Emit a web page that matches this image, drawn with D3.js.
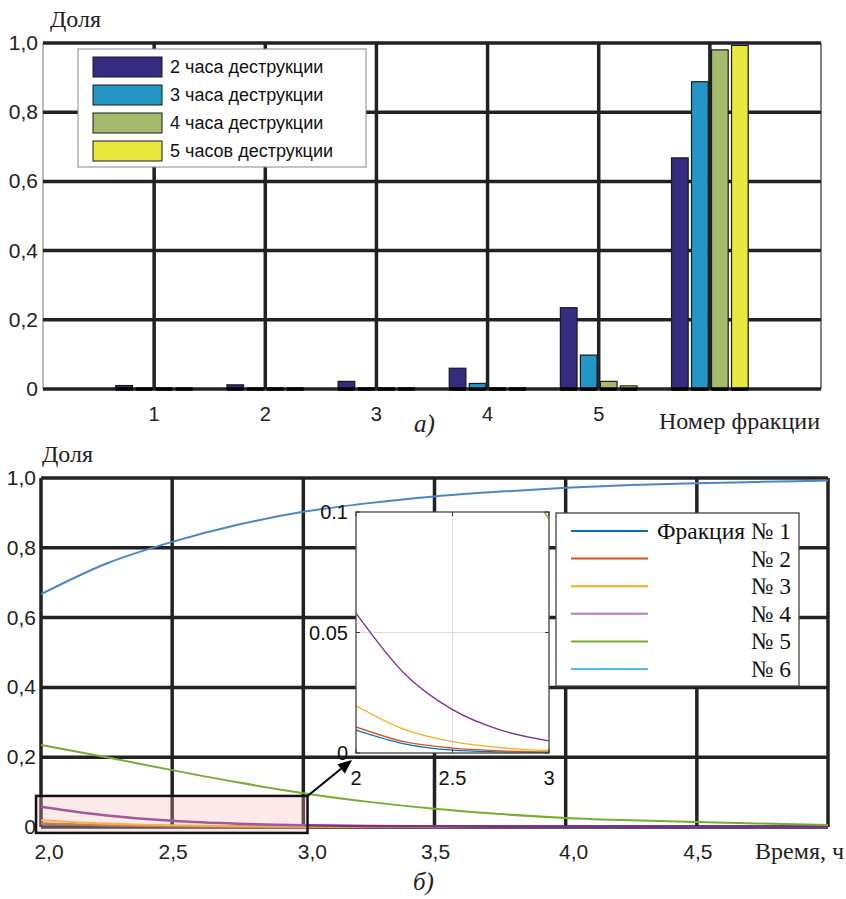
<!DOCTYPE html>
<html><head><meta charset="utf-8">
<script src="https://cdn.jsdelivr.net/npm/d3@7"></script>
<style>body{margin:0;background:#fff}svg{display:block}</style>
</head><body>
<svg id="c" width="846" height="899"></svg>
<script>
// ---------- data: top chart ----------
const fractions = [1, 2, 3, 4, 5, 6];
const fractionTickLabels = ["1", "2", "3", "4", "5"];
const seriesNames = ["2 часа деструкции", "3 часа деструкции", "4 часа деструкции", "5 часов деструкции"];
const share2h = [0.010, 0.012, 0.022, 0.060, 0.235, 0.668];
const share3h = [0.001, 0.001, 0.001, 0.016, 0.098, 0.888];
const share4h = [0.000, 0.000, 0.000, 0.000, 0.022, 0.980];
const share5h = [0.000, 0.000, 0.000, 0.000, 0.009, 0.993];
const barColors = ["#352c80", "#2496c5", "#a5bb6b", "#e9e83e"];
const yTickValues = [0, 0.2, 0.4, 0.6, 0.8, 1.0];
const yTickLabels = ["0", "0,2", "0,4", "0,6", "0,8", "1,0"];

// ---------- data: bottom chart ----------
const times = [2.0, 2.25, 2.5, 2.75, 3.0, 3.25, 3.5, 3.75, 4.0, 4.25, 4.5, 4.75, 5.0];
const frac1 = [0.0095, 0.0038, 0.0012, 0.0005, 0.0002, 0.0001, 0.0001, 0, 0, 0, 0, 0, 0];
const frac2 = [0.0108, 0.0047, 0.0020, 0.0009, 0.0004, 0.0002, 0.0001, 0.0001, 0, 0, 0, 0, 0];
const frac3 = [0.0196, 0.0098, 0.0047, 0.0022, 0.0010, 0.0005, 0.0002, 0.0001, 0.0001, 0, 0, 0, 0];
const frac4 = [0.058, 0.033, 0.018, 0.0095, 0.005, 0.003, 0.002, 0.001, 0.0006, 0.0004, 0.0002, 0.0001, 0.0001];
const frac5 = [0.235, 0.200, 0.163, 0.128, 0.097, 0.072, 0.052, 0.037, 0.026, 0.019, 0.014, 0.010, 0.006];
const frac6 = [0.667, 0.755, 0.817, 0.866, 0.903, 0.928, 0.947, 0.961, 0.972, 0.980, 0.985, 0.989, 0.993];
const lineNames = ["Фракция № 1", "№ 2", "№ 3", "№ 4", "№ 5", "№ 6"];
const lineColors = ["#0072bd", "#d95319", "#edb120", "#7e2f8e", "#77ac30", "#4a86c8"];
const legendLineColors = ["#0072bd", "#d95319", "#edb120", "#b07cc6", "#77ac30", "#4dbeee"];
const timeTicks = [2.0, 2.5, 3.0, 3.5, 4.0, 4.5];
const timeTickLabels = ["2,0", "2,5", "3,0", "3,5", "4,0", "4,5"];
const insetXTicks = [2, 2.5, 3];
const insetXLabels = ["2", "2.5", "3"];
const insetYTicks = [0, 0.05, 0.1];
const insetYLabels = ["0", "0.05", "0.1"];

// label nudges (pixels) as placed in the original figure
const timeLabelNudge = [8, 1, 9, 1, 8, 1];

const svg = d3.select("#c");
const SANS = "'Liberation Sans', Arial, sans-serif";
const SERIF = "'Liberation Serif', 'Times New Roman', serif";
const GRID = "#222";

// ================= TOP CHART =================
const xa = d3.scaleLinear().domain([0, 7]).range([43, 821]);
const ya = d3.scaleLinear().domain([0, 1]).range([389, 43]);
const gA = svg.append("g");

gA.append("line").attr("x1", xa(0)).attr("x2", xa(0)).attr("y1", ya(1)).attr("y2", ya(0))
  .attr("stroke", "#777").attr("stroke-width", 1);
gA.append("line").attr("x1", xa(7)).attr("x2", xa(7)).attr("y1", ya(1)).attr("y2", ya(0))
  .attr("stroke", "#333").attr("stroke-width", 1.2);
gA.selectAll(".vg").data(fractions).join("line")
  .attr("x1", d => xa(d)).attr("x2", d => xa(d)).attr("y1", ya(1)).attr("y2", ya(0))
  .attr("stroke", GRID).attr("stroke-width", 3.5);
gA.selectAll(".hg").data(yTickValues).join("line")
  .attr("x1", xa(0)).attr("x2", xa(7)).attr("y1", d => ya(d)).attr("y2", d => ya(d))
  .attr("stroke", GRID).attr("stroke-width", 3.5);

// bars
const allSeries = [share2h, share3h, share4h, share5h];
const slot = 0.18, bw = 0.15;
allSeries.forEach((vals, si) => {
  gA.selectAll(".b" + si).data(fractions).join("rect")
    .attr("x", d => xa(d + (si - 1.5) * slot - bw / 2))
    .attr("width", xa(bw) - xa(0))
    .attr("y", (d, i) => ya(vals[i]))
    .attr("height", (d, i) => Math.max(0, ya(0) - ya(vals[i])))
    .attr("fill", barColors[si]).attr("stroke", "#1a1a1a").attr("stroke-width", 1.2);
  gA.selectAll(".z" + si).data(fractions).join("line")
    .attr("x1", d => xa(d + (si - 1.5) * slot - bw / 2))
    .attr("x2", d => xa(d + (si - 1.5) * slot + bw / 2))
    .attr("y1", ya(0)).attr("y2", ya(0))
    .attr("stroke", "#000").attr("stroke-width", 3.5);
});

gA.selectAll(".yl").data(yTickValues).join("text")
  .attr("x", 38).attr("y", d => ya(d) + 7).attr("text-anchor", "end")
  .attr("font-family", SANS).attr("font-size", 21).attr("fill", "#222")
  .text((d, i) => yTickLabels[i]);
gA.selectAll(".xl").data(fractionTickLabels).join("text")
  .attr("x", (d, i) => xa(fractions[i])).attr("y", 421).attr("text-anchor", "middle")
  .attr("font-family", SANS).attr("font-size", 20).attr("fill", "#222")
  .text(d => d);
gA.append("text").attr("x", 50).attr("y", 27).attr("font-family", SERIF).attr("font-size", 24)
  .attr("fill", "#222").text("Доля");
gA.append("text").attr("x", 820).attr("y", 429).attr("text-anchor", "end").attr("font-family", SERIF)
  .attr("font-size", 24).attr("fill", "#222").text("Номер фракции");
gA.append("text").attr("x", 414).attr("y", 432).attr("font-family", SERIF).attr("font-style", "italic")
  .attr("font-size", 25).attr("fill", "#222").text("а)");

const lgA = gA.append("g");
lgA.append("rect").attr("x", 78).attr("y", 49).attr("width", 288).attr("height", 118)
  .attr("fill", "#fff").attr("stroke", "#888").attr("stroke-width", 1);
seriesNames.forEach((n, i) => {
  const cy = 67 + i * 28;
  lgA.append("rect").attr("x", 93).attr("y", cy - 10).attr("width", 69).attr("height", 20)
    .attr("fill", barColors[i]).attr("stroke", "#1a1a1a").attr("stroke-width", 1);
  lgA.append("text").attr("x", 170).attr("y", cy + 6).attr("font-family", SANS).attr("font-size", 18)
    .attr("fill", "#111").text(n);
});

// ================= BOTTOM CHART =================
const xb = d3.scaleLinear().domain([2, 5]).range([41, 828]);
const yb = d3.scaleLinear().domain([0, 1]).range([827, 478]);
const gB = svg.append("g");

gB.selectAll(".vgb").data([2.0, 2.5, 3.0, 3.5, 4.0, 4.5, 5.0]).join("line")
  .attr("x1", d => xb(d)).attr("x2", d => xb(d)).attr("y1", yb(1)).attr("y2", yb(0))
  .attr("stroke", GRID).attr("stroke-width", 3.5);
gB.selectAll(".hgb").data(yTickValues).join("line")
  .attr("x1", xb(2)).attr("x2", xb(5)).attr("y1", d => yb(d)).attr("y2", d => yb(d))
  .attr("stroke", GRID).attr("stroke-width", 3.5);

const allFracs = [frac1, frac2, frac3, frac4, frac5, frac6];
const lineB = d3.line().x((d, i) => xb(times[i])).y(d => yb(d)).curve(d3.curveMonotoneX);
allFracs.forEach((f, k) => {
  gB.append("path").attr("d", lineB(f)).attr("fill", "none")
    .attr("stroke", lineColors[k]).attr("stroke-width", k === 3 ? 2.5 : 2);
});

gB.selectAll(".ylb").data(yTickValues).join("text")
  .attr("x", 36).attr("y", d => yb(d) + 7).attr("text-anchor", "end")
  .attr("font-family", SANS).attr("font-size", 21).attr("fill", "#222")
  .text((d, i) => yTickLabels[i]);
gB.selectAll(".xlb").data(timeTicks).join("text")
  .attr("x", (d, i) => xb(d) + timeLabelNudge[i]).attr("y", 859).attr("text-anchor", "middle")
  .attr("font-family", SANS).attr("font-size", 21).attr("fill", "#222")
  .text((d, i) => timeTickLabels[i]);
gB.append("text").attr("x", 42).attr("y", 462).attr("font-family", SERIF).attr("font-size", 24)
  .attr("fill", "#222").text("Доля");
gB.append("text").attr("x", 844).attr("y", 859).attr("text-anchor", "end").attr("font-family", SERIF)
  .attr("font-size", 24).attr("fill", "#222").text("Время, ч");
gB.append("text").attr("x", 413).attr("y", 890).attr("font-family", SERIF).attr("font-style", "italic")
  .attr("font-size", 25).attr("fill", "#222").text("б)");

// highlight box
const hx0 = xb(1.981), hx1 = xb(3.016), hy0 = yb(0.089), hy1 = yb(-0.017);
gB.append("rect").attr("x", hx0).attr("y", hy0).attr("width", hx1 - hx0).attr("height", hy1 - hy0)
  .attr("fill", "#f4b8b8").attr("fill-opacity", 0.3).attr("stroke", "#111").attr("stroke-width", 2.5);

// ---- inset ----
const xi = d3.scaleLinear().domain([2, 3]).range([356, 549]);
const yi = d3.scaleLinear().domain([0, 0.1]).range([753, 512]);
const gI = svg.append("g");
gI.append("rect").attr("x", xi(2)).attr("y", yi(0.1)).attr("width", xi(3) - xi(2)).attr("height", yi(0) - yi(0.1))
  .attr("fill", "#fff");
gI.append("line").attr("x1", xi(2.5)).attr("x2", xi(2.5)).attr("y1", yi(0)).attr("y2", yi(0.1))
  .attr("stroke", "#ddd").attr("stroke-width", 1);
gI.append("line").attr("x1", xi(2)).attr("x2", xi(3)).attr("y1", yi(0.05)).attr("y2", yi(0.05))
  .attr("stroke", "#ddd").attr("stroke-width", 1);
svg.append("defs").append("clipPath").attr("id", "ic").append("rect")
  .attr("x", xi(2)).attr("y", yi(0.1)).attr("width", xi(3) - xi(2)).attr("height", yi(0) - yi(0.1));
const lineI = d3.line().x((d, i) => xi(times[i])).y(d => yi(d)).curve(d3.curveMonotoneX);
const gIl = gI.append("g").attr("clip-path", "url(#ic)");
allFracs.forEach((f, k) => {
  gIl.append("path").attr("d", lineI(f.slice(0, 5))).attr("fill", "none")
    .attr("stroke", lineColors[k]).attr("stroke-width", 1.3);
});
gI.append("rect").attr("x", xi(2)).attr("y", yi(0.1)).attr("width", xi(3) - xi(2)).attr("height", yi(0) - yi(0.1))
  .attr("fill", "none").attr("stroke", "#444").attr("stroke-width", 1.3);
insetXTicks.forEach(t => {
  gI.append("line").attr("x1", xi(t)).attr("x2", xi(t)).attr("y1", yi(0)).attr("y2", yi(0) - 4).attr("stroke", "#333");
  gI.append("line").attr("x1", xi(t)).attr("x2", xi(t)).attr("y1", yi(0.1)).attr("y2", yi(0.1) + 4).attr("stroke", "#333");
});
insetYTicks.forEach(t => {
  gI.append("line").attr("x1", xi(2)).attr("x2", xi(2) + 4).attr("y1", yi(t)).attr("y2", yi(t)).attr("stroke", "#333");
  gI.append("line").attr("x1", xi(3)).attr("x2", xi(3) - 4).attr("y1", yi(t)).attr("y2", yi(t)).attr("stroke", "#333");
});
gI.selectAll(".iyl").data(insetYTicks).join("text")
  .attr("x", 348).attr("y", d => yi(d) + 7).attr("text-anchor", "end")
  .attr("font-family", SANS).attr("font-size", 20).attr("fill", "#111")
  .text((d, i) => insetYLabels[i]);
gI.selectAll(".ixl").data(insetXTicks).join("text")
  .attr("x", d => xi(d)).attr("y", 785).attr("text-anchor", "middle")
  .attr("font-family", SANS).attr("font-size", 20).attr("fill", "#111")
  .text((d, i) => insetXLabels[i]);

// arrow
const ax0 = hx1, ay0 = hy0, ax1 = 352, ay1 = 760;
const ang = Math.atan2(ay1 - ay0, ax1 - ax0);
const ah = 14, aw = 6;
const bx = ax1 - ah * Math.cos(ang), by = ay1 - ah * Math.sin(ang);
svg.append("line").attr("x1", ax0).attr("y1", ay0).attr("x2", bx).attr("y2", by)
  .attr("stroke", "#000").attr("stroke-width", 2);
svg.append("path").attr("d", d3.line()([
  [ax1, ay1],
  [bx + aw * Math.sin(ang), by - aw * Math.cos(ang)],
  [bx - aw * Math.sin(ang), by + aw * Math.cos(ang)]
])).attr("fill", "#000");

// legend bottom
const lgB = svg.append("g");
lgB.append("rect").attr("x", 556).attr("y", 513).attr("width", 243).attr("height", 173)
  .attr("fill", "#fff").attr("stroke", "#444").attr("stroke-width", 1.3);
lineNames.forEach((n, k) => {
  const cy = 531 + k * 27.6;
  lgB.append("line").attr("x1", 571).attr("x2", 648).attr("y1", cy).attr("y2", cy)
    .attr("stroke", legendLineColors[k]).attr("stroke-width", 2);
  lgB.append("text").attr("x", 791).attr("y", cy + 8).attr("text-anchor", "end")
    .attr("font-family", SERIF).attr("font-size", 23.5).attr("fill", "#111").text(n);
});
</script>
</body></html>
